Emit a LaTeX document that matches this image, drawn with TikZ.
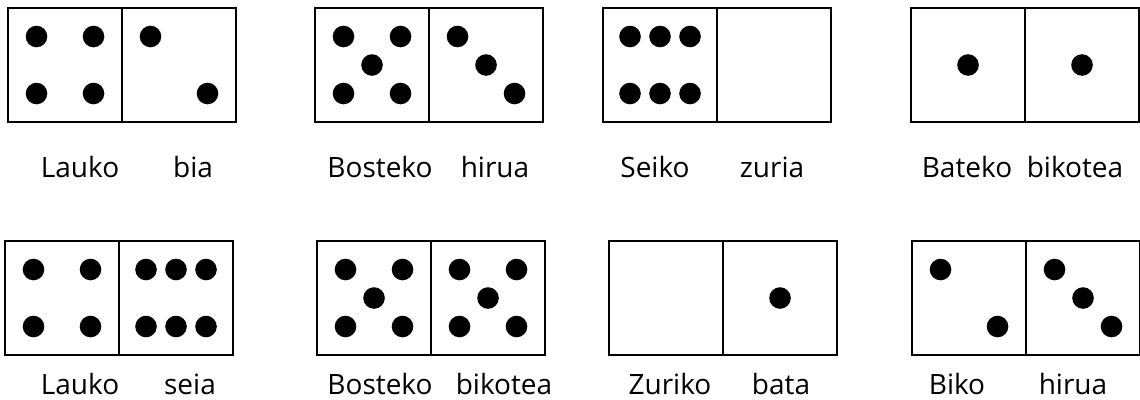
\documentclass[tikz,border=0pt]{standalone}
\usepackage{fontspec}
\setmainfont{Open Sans}
\usepackage{tikz}

\tikzset{
  half/.style={draw, line width=2.2pt, minimum size=114pt, inner sep=0pt},
  word/.style={anchor=base, inner sep=0pt, font=\fontsize{28}{30}\selectfont},
}
% pip patterns, offsets from the centre of a half
\newcommand{\pipone}{0/0}
\newcommand{\piptwo}{-28.5/-28.5, 28.5/28.5}
\newcommand{\pipthree}{-28.5/-28.5, 0/0, 28.5/28.5}
\newcommand{\pipfour}{-28.5/-28.5, 28.5/-28.5, -28.5/28.5, 28.5/28.5}
\newcommand{\pipfive}{-28.5/-28.5, 28.5/-28.5, 0/0, -28.5/28.5, 28.5/28.5}
\newcommand{\pipsix}{-30/-28.5, 0/-28.5, 30/-28.5, -30/28.5, 0/28.5, 30/28.5}
\newcommand{\pipsat}[2]{%
  \foreach \dx/\dy in #2
    \fill ([shift={(\dx,\dy)}]#1.center) circle[radius=10.8pt];}

\begin{document}
\begin{tikzpicture}[x=1pt, y=-1pt]
      \useasboundingbox (0,0) rectangle (1140,399);

      % first row
      \node[half] (lauko)   at (65,65)   {};
      \node[half] (bia)     at (179,65)  {};
      \node[half] (bosteko) at (372,65)  {};
      \node[half] (hirua)   at (486,65)  {};
      \node[half] (seiko)   at (660,65)  {};
      \node[half] (zuria)   at (774,65)  {};
      \node[half] (bateko)  at (968,65)  {};
      \node[half] (bikotea) at (1082,65) {};
      \pipsat{lauko}{\pipfour}
      \pipsat{bia}{\piptwo}
      \pipsat{bosteko}{\pipfive}
      \pipsat{hirua}{\pipthree}
      \pipsat{seiko}{\pipsix}
      \pipsat{bateko}{\pipone}
      \pipsat{bikotea}{\pipone}

      \node[word] (t-lauko)   at (80,177)   {Lauko};
      \node[word] (t-bia)     at (193,177)  {bia};
      \node[word] (t-bosteko) at (380,177)  {Bosteko};
      \node[word] (t-hirua)   at (495,177)  {hirua};
      \node[word] (t-seiko)   at (655,177)  {Seiko};
      \node[word] (t-zuria)   at (772,177)  {zuria};
      \node[word] (t-bateko)  at (967,177)  {Bateko};
      \node[word] (t-bikotea) at (1075,177) {bikotea};

      % second row
      \node[half] (lauko2)   at (62,298)   {};
      \node[half] (seia)     at (176,298)  {};
      \node[half] (bosteko2) at (374,298)  {};
      \node[half] (bikotea2) at (488,298)  {};
      \node[half] (zuriko)   at (666,298)  {};
      \node[half] (bata)     at (780,298)  {};
      \node[half] (biko)     at (969,298)  {};
      \node[half] (hirua2)   at (1083,298) {};
      \pipsat{lauko2}{\pipfour}
      \pipsat{seia}{\pipsix}
      \pipsat{bosteko2}{\pipfive}
      \pipsat{bikotea2}{\pipfive}
      \pipsat{bata}{\pipone}
      \pipsat{biko}{\piptwo}
      \pipsat{hirua2}{\pipthree}

      \node[word] (t-lauko2)   at (80,394)   {Lauko};
      \node[word] (t-seia)     at (190,394)  {seia};
      \node[word] (t-bosteko2) at (380,394)  {Bosteko};
      \node[word] (t-bikotea2) at (504,394)  {bikotea};
      \node[word] (t-zuriko)   at (670,394)  {Zuriko};
      \node[word] (t-bata)     at (781,394)  {bata};
      \node[word] (t-biko)     at (957,394)  {Biko};
      \node[word] (t-hirua2)   at (1073,394) {hirua};
    \end{tikzpicture}
\end{document}
